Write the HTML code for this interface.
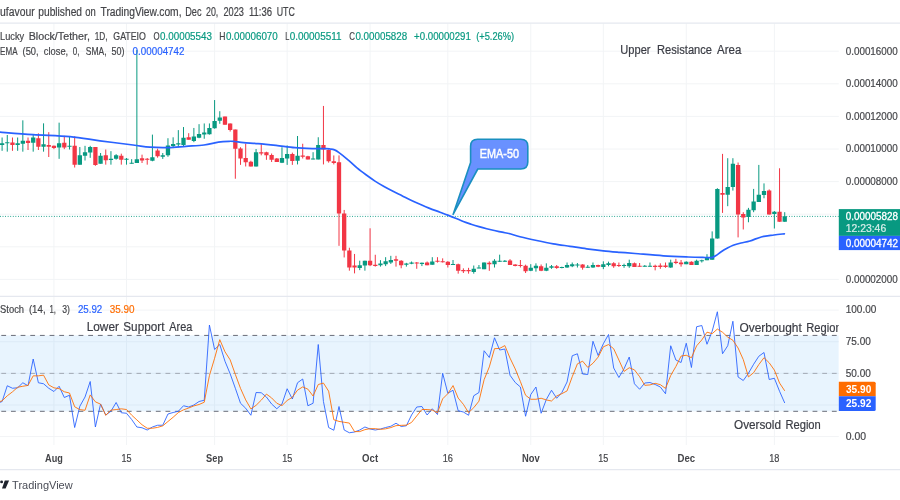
<!DOCTYPE html>
<html lang="en"><head><meta charset="utf-8"><title>Lucky Block/Tether chart</title>
<style>
html,body{margin:0;padding:0;background:#fff;}
body{width:900px;height:500px;overflow:hidden;}
svg{display:block;will-change:transform;}
text{font-family:"Liberation Sans", Arial, sans-serif;}
</style></head><body>
<svg width="900" height="500" viewBox="0 0 900 500" font-family='"Liberation Sans", Arial, sans-serif'>
<defs>
<clipPath id="cm"><rect x="0" y="23.5" width="838.8" height="272.5"/></clipPath>
<clipPath id="cs"><rect x="0" y="297" width="838.8" height="148"/></clipPath>
</defs>
<g stroke="#f2f4f6" stroke-width="1" fill="none">
<path d="M53.93 23.5V445"/>
<path d="M126.49 23.5V445"/>
<path d="M214.6 23.5V445"/>
<path d="M287.17 23.5V445"/>
<path d="M370.09 23.5V445"/>
<path d="M447.84 23.5V445"/>
<path d="M530.77 23.5V445"/>
<path d="M603.33 23.5V445"/>
<path d="M686.26 23.5V445"/>
<path d="M774.37 23.5V445"/>
<path d="M0 51.2H838.8"/>
<path d="M0 83.8H838.8"/>
<path d="M0 116.4H838.8"/>
<path d="M0 149H838.8"/>
<path d="M0 181.6H838.8"/>
<path d="M0 214.2H838.8"/>
<path d="M0 246.8H838.8"/>
<path d="M0 279.4H838.8"/>
<path d="M0 310.1H838.8"/>
<path d="M0 341.72H838.8"/>
<path d="M0 373.34H838.8"/>
<path d="M0 404.96H838.8"/>
<path d="M0 436.58H838.8"/>
</g>
<g stroke="#e5e8ef" stroke-width="1.3" fill="none">
<path d="M0 23.05H900"/>
<path d="M0 296.4H900"/>
<path d="M0 469.6H900"/>
</g>
<g clip-path="url(#cs)">
<rect x="0" y="335.42" width="838.8" height="75.89" fill="#2196f3" fill-opacity="0.1"/>
<g stroke="#6a6d78" stroke-width="1" fill="none" stroke-dasharray="4.8 4.858">
<path d="M-8.36 335.42H838.8"/>
<path d="M-8.36 411.3H838.8"/>
</g>
<path d="M-8.36 373.36H838.8" stroke="#787b86" stroke-opacity="0.6" stroke-width="1" fill="none" stroke-dasharray="4.8 4.858"/>
</g>
<path d="M0 216.4H838.8" stroke="#089981" stroke-width="1" stroke-dasharray="0.86 1.71" fill="none"/>
<g clip-path="url(#cm)">
<path d="M2.1 137.5V150.83M7.28 135V151.67M17.65 137.5V150.83M22.83 120.33V151.67M33.2 135V151.67M43.56 123.33V151.67M59.11 122.67V158.83M69.48 136.67V149.5M79.84 147V164.67M85.03 145.83V160.5M90.21 145.83V157.83M100.58 153V163.67M110.94 151.17V164.67M116.13 154.17V159.67M126.49 158V164.67M131.67 159.17V163.67M136.86 50V163M152.41 134.62V161.27M162.77 152.99V158.93M167.96 138.22V156.77M173.14 137.32V148.12M178.32 130.12V147.22M183.5 127.05V145.96M193.87 127.96V142.18M199.05 124.17V138.22M204.24 123.45V138.76M209.42 123.45V134.62M214.6 100.04V128.68M219.79 111.21V123.81M256.07 149.02V166.49M281.98 147.22V163.07M287.17 145.42V164.87M297.53 136V164.43M313.08 152.2V159.4M318.26 137.26V159.4M359.73 260.69V270.14M364.91 260.69V270.68M380.46 260.15V266.63M385.64 257.18V266.09M390.82 255.83V263.93M406.37 262.85V266.63M411.56 261.5V264.2M421.92 262.58V266.09M432.29 257.18V264.74M453.02 260V265M473.75 265.5V273.67M478.94 265V268.33M484.12 262.5V269.17M494.49 259.17V267.5M499.67 254.67V262M504.85 260V262M530.77 264.17V271.17M535.95 263.33V271.67M546.32 263.33V271.17M551.5 265V268.83M561.86 266.67V268.33M567.05 262.5V267.83M572.23 262.5V267.17M577.41 263V267.5M587.78 265V267.83M592.96 262.5V267.83M603.33 261.33V269.17M608.51 261.67V266.33M624.06 263.67V267.83M629.24 259.67V267.83M644.79 265V266.67M649.98 262.5V266.67M670.71 259.67V267.83M686.26 261.33V264.17M696.62 259.67V265M701.8 259.67V262.5M706.99 254.2V260.2M712.17 231.4V259.72M717.35 188.2V238.6M727.72 158.2V206.2M732.9 158.2V190.6M748.45 207.88V222.28M753.63 188.92V212.2M758.82 164.92V201.88M764 183.4V198.28M774.37 211V228.52M784.73 212.2V221.8" stroke="#089981" stroke-width="1" fill="none"/>
<path d="M12.47 137.5V150.83M28.02 137.5V150M38.38 133.33V150M48.75 132.17V157M53.93 145.5V149.17M64.3 135.83V149.17M74.66 136.33V167.5M95.39 147V165.83M105.76 149.5V164.67M121.31 153.67V164.67M142.04 154.67V163M147.22 158V164.67M157.59 148.66V157.67M188.69 133.18V139.66M224.97 116.61V124.71M230.15 123.45V131.56M235.33 129.58V178.74M240.52 147.22V164.87M245.7 143.62V166.49M250.88 160.73V166.49M261.25 143.98V155.33M266.43 151.73V159.83M271.62 153.53V161.99M276.8 158.03V161.99M292.35 152.63V164.87M302.71 143.74V158.5M307.9 155.8V159.4M323.45 105.94V164.43M328.63 149.5V162.63M333.81 155.44V164.43M339 155.4V245.84M344.18 209.94V257.45M349.36 247.73V270.68M354.54 253.94V273.38M370.09 228.29V266.09M375.28 254.75V266.63M396.01 255.83V266.63M401.19 260.15V268.25M416.74 262.04V268.79M427.11 261.5V265.28M437.47 257.18V262.58M442.66 258.33V262.5M447.84 261.17V267.5M458.2 263.67V273.67M463.39 268.33V273M468.57 267.83V273.67M489.3 261.33V270.83M510.03 259.17V265M515.22 264.17V266.33M520.4 260V267.5M525.58 264.67V273M541.13 264.5V271.17M556.68 265V268.83M582.6 264.17V269.67M598.14 264.67V267.17M613.69 262.17V267.83M618.88 262.5V267M634.43 262.5V267M639.61 263V266.67M655.16 264.67V270.33M660.34 263.33V268.83M665.52 262.5V267.83M675.89 258.83V264.17M681.07 260V266.67M691.44 261.33V265M722.54 153.88V212.92M738.09 162.52V237.4M743.27 212.2V229.48M769.18 189.4V214.6M779.55 168.28V221.8" stroke="#f23645" stroke-width="1" fill="none"/>
<path d="M-0.05 143.33h4.3V145h-4.3zM5.13 142.17h4.3V143.33h-4.3zM15.5 143.33h4.3V145h-4.3zM20.68 140.83h4.3V143.83h-4.3zM31.05 137.5h4.3V142.83h-4.3zM41.41 144.17h4.3V146.67h-4.3zM56.96 143.33h4.3V147.5h-4.3zM67.33 145.75h4.3V146.75h-4.3zM77.69 155.33h4.3V164.67h-4.3zM82.88 152.17h4.3V155.83h-4.3zM88.06 147h4.3V152.5h-4.3zM98.43 155.83h4.3V163.67h-4.3zM108.79 158.83h4.3V160h-4.3zM113.98 155.33h4.3V158.83h-4.3zM124.34 158.75h4.3V159.75h-4.3zM129.52 162.83h4.3V163.83h-4.3zM134.71 159.17h4.3V163h-4.3zM150.26 157.13h4.3V160.73h-4.3zM160.62 155.33h4.3V156.77h-4.3zM165.81 145.42h4.3V155.33h-4.3zM170.99 143.98h4.3V145.96h-4.3zM176.17 143.26h4.3V144.52h-4.3zM181.35 137.68h4.3V145.06h-4.3zM191.72 136.42h4.3V140.92h-4.3zM196.9 134.08h4.3V137.68h-4.3zM202.09 132.46h4.3V134.62h-4.3zM207.27 127.96h4.3V134.26h-4.3zM212.45 121.11h4.3V128.32h-4.3zM217.64 117.51h4.3V120.75h-4.3zM253.92 152.27h4.3V166.49h-4.3zM279.83 158.03h4.3V162.71h-4.3zM285.02 153.89h4.3V158.57h-4.3zM295.38 155.8h4.3V160.84h-4.3zM310.93 158.45h4.3V159.45h-4.3zM316.11 145h4.3V159.4h-4.3zM357.58 265.28h4.3V267.98h-4.3zM362.76 260.69h4.3V265.55h-4.3zM378.31 263.39h4.3V265.28h-4.3zM383.49 261.23h4.3V264.2h-4.3zM388.68 259.88h4.3V262.58h-4.3zM404.22 263.39h4.3V264.74h-4.3zM409.41 262.58h4.3V263.66h-4.3zM419.77 262.85h4.3V263.93h-4.3zM430.14 261.5h4.3V264.74h-4.3zM450.87 264.08h4.3V265.08h-4.3zM471.6 268.83h4.3V272h-4.3zM476.79 267.42h4.3V268.42h-4.3zM481.97 262.5h4.3V269.17h-4.3zM492.34 260.83h4.3V264.17h-4.3zM497.52 260.75h4.3V261.75h-4.3zM502.7 260.75h4.3V261.75h-4.3zM528.62 267.83h4.3V270.83h-4.3zM533.8 265.83h4.3V268.33h-4.3zM544.17 267.83h4.3V270.83h-4.3zM549.35 266.17h4.3V267.83h-4.3zM559.71 266.92h4.3V267.92h-4.3zM564.9 265h4.3V267.5h-4.3zM570.08 264.17h4.3V266.33h-4.3zM575.26 264.5h4.3V265.5h-4.3zM585.63 266.83h4.3V267.83h-4.3zM590.81 265h4.3V267.5h-4.3zM601.18 264.17h4.3V267h-4.3zM606.36 263.33h4.3V265h-4.3zM621.91 265h4.3V266h-4.3zM627.09 263h4.3V266.33h-4.3zM642.64 265.83h4.3V266.83h-4.3zM647.83 265.83h4.3V266.83h-4.3zM668.56 262.5h4.3V267.5h-4.3zM684.11 261.67h4.3V264.17h-4.3zM694.47 260.83h4.3V265h-4.3zM699.65 260.25h4.3V261.25h-4.3zM704.84 257.32h4.3V260.2h-4.3zM710.02 238.6h4.3V259.72h-4.3zM715.2 188.92h4.3V238.6h-4.3zM725.57 187h4.3V194.68h-4.3zM730.75 163.72h4.3V187h-4.3zM746.3 209.8h4.3V217h-4.3zM751.49 201.4h4.3V210.28h-4.3zM756.67 194.68h4.3V201.88h-4.3zM761.85 191.08h4.3V194.92h-4.3zM772.22 211.72h4.3V213.88h-4.3zM782.58 216.28h4.3V221.8h-4.3z" fill="#089981"/>
<path d="M10.32 142.5h4.3V145h-4.3zM25.87 140.83h4.3V143h-4.3zM36.23 138.33h4.3V146.67h-4.3zM46.6 145h4.3V146.67h-4.3zM51.78 145.83h4.3V148h-4.3zM62.15 142.83h4.3V147.5h-4.3zM72.51 145.83h4.3V164.67h-4.3zM93.24 147h4.3V165h-4.3zM103.61 155.33h4.3V160.33h-4.3zM119.16 155.83h4.3V159.67h-4.3zM139.89 158.33h4.3V160.5h-4.3zM145.07 158.75h4.3V159.75h-4.3zM155.44 150.47h4.3V156.23h-4.3zM186.54 137.32h4.3V139.66h-4.3zM222.82 116.61h4.3V124.71h-4.3zM228 123.45h4.3V130.12h-4.3zM233.18 129.58h4.3V148.66h-4.3zM238.37 148.48h4.3V158.39h-4.3zM243.55 158.03h4.3V162.17h-4.3zM248.73 161.63h4.3V166.49h-4.3zM259.1 152.27h4.3V153.53h-4.3zM264.28 152.27h4.3V155.33h-4.3zM269.47 154.97h4.3V159.83h-4.3zM274.65 158.39h4.3V161.99h-4.3zM290.2 153.89h4.3V161.09h-4.3zM300.56 155.44h4.3V156.7h-4.3zM305.75 156.34h4.3V159.4h-4.3zM321.3 145h4.3V149.5h-4.3zM326.48 150.04h4.3V161.2h-4.3zM331.66 161.2h4.3V162.99h-4.3zM336.85 162.15h4.3V213.44h-4.3zM342.03 213.44h4.3V250.43h-4.3zM347.21 250.43h4.3V267.44h-4.3zM352.39 265.55h4.3V267.44h-4.3zM367.94 260.69h4.3V265.28h-4.3zM373.13 264.74h4.3V266.09h-4.3zM393.86 259.34h4.3V260.69h-4.3zM399.04 260.69h4.3V265.28h-4.3zM414.59 262.49h4.3V263.49h-4.3zM424.96 262.58h4.3V265.28h-4.3zM435.32 260.69h4.3V261.77h-4.3zM440.51 261.17h4.3V262.17h-4.3zM445.69 261.67h4.3V265h-4.3zM456.05 264.17h4.3V270.83h-4.3zM461.24 270h4.3V271.17h-4.3zM466.42 270h4.3V271.17h-4.3zM487.15 262.83h4.3V264.17h-4.3zM507.88 260.5h4.3V265h-4.3zM513.07 264.5h4.3V266h-4.3zM518.25 265h4.3V266h-4.3zM523.43 265.83h4.3V271.17h-4.3zM538.98 266.17h4.3V270.83h-4.3zM554.53 266.17h4.3V268h-4.3zM580.45 264.5h4.3V267.83h-4.3zM596 265h4.3V266.67h-4.3zM611.54 263.33h4.3V266.33h-4.3zM616.73 265h4.3V266h-4.3zM632.28 263.33h4.3V267h-4.3zM637.46 265.75h4.3V266.75h-4.3zM653.01 265.83h4.3V267h-4.3zM658.19 265.5h4.3V267h-4.3zM663.37 265.5h4.3V267h-4.3zM673.74 261.67h4.3V263h-4.3zM678.92 262.5h4.3V264.17h-4.3zM689.29 261.67h4.3V265h-4.3zM720.39 193h4.3V194.68h-4.3zM735.94 164.92h4.3V214.6h-4.3zM741.12 214.12h4.3V217.48h-4.3zM767.03 190.6h4.3V214.6h-4.3zM777.4 211.72h4.3V221.8h-4.3z" fill="#f23645"/>
<path d="M-2 132C-1.67 132.03 -5.83 131.75 0 132.2C5.83 132.65 21.33 133.95 33 134.7C44.67 135.45 58.83 135.68 70 136.7C81.17 137.72 89.5 139.42 100 140.8C110.5 142.18 124.67 143.93 133 145C141.33 146.07 144.17 146.77 150 147.2C155.83 147.63 162 147.75 168 147.6C174 147.45 180 146.73 186 146.3C192 145.87 198.6 145.68 204 145C209.4 144.32 214.23 142.82 218.4 142.2C222.57 141.58 226.3 141.42 229 141.3C231.7 141.18 232.17 141.27 234.6 141.5C237.03 141.73 239.7 142.35 243.6 142.7C247.5 143.05 252.6 143.15 258 143.6C263.4 144.05 269.83 144.72 276 145.4C282.17 146.08 288.83 147.17 295 147.7C301.17 148.23 307.83 148.43 313 148.6C318.17 148.77 323.17 148.63 326 148.7C328.83 148.77 328.58 148.8 330 149C331.42 149.2 333 149.3 334.5 149.9C336 150.5 336.75 150.95 339 152.6C341.25 154.25 345 157.25 348 159.8C351 162.35 354 165.4 357 167.9C360 170.4 363 172.6 366 174.8C369 177 372 179.15 375 181.1C378 183.05 381 184.8 384 186.5C387 188.2 390 189.75 393 191.3C396 192.85 399 194.3 402 195.8C405 197.3 408 198.88 411 200.3C414 201.72 417 203 420 204.3C423 205.6 425.67 206.78 429 208.1C432.33 209.42 436.87 211.03 440 212.2C443.13 213.37 445.2 214.1 447.8 215.1C450.4 216.1 453.02 217.13 455.6 218.2C458.18 219.27 460.72 220.5 463.3 221.5C465.88 222.5 468.5 223.35 471.1 224.2C473.7 225.05 476.3 225.85 478.9 226.6C481.5 227.35 484.12 228.05 486.7 228.7C489.28 229.35 491.82 229.92 494.4 230.5C496.98 231.08 499.6 231.65 502.2 232.2C504.8 232.75 507.03 233.05 510 233.8C512.97 234.55 515.55 235.58 520 236.7C524.45 237.82 531.15 239.32 536.7 240.5C542.25 241.68 547.75 242.83 553.3 243.8C558.85 244.77 564.43 245.47 570 246.3C575.57 247.13 581.15 248.05 586.7 248.8C592.25 249.55 597.75 250.22 603.3 250.8C608.85 251.38 614.72 251.85 620 252.3C625.28 252.75 627.78 252.92 635 253.5C642.22 254.08 654.42 255.22 663.3 255.8C672.18 256.38 681.35 256.72 688.3 257C695.25 257.28 701.12 257.4 705 257.5C708.88 257.6 709.77 257.93 711.6 257.6C713.43 257.27 714.4 256.47 716 255.5C717.6 254.53 719.37 253 721.2 251.8C723.03 250.6 725 249.38 727 248.3C729 247.22 730.87 246.18 733.2 245.3C735.53 244.42 738.2 243.72 741 243C743.8 242.28 746.5 242.05 750 241C753.5 239.95 758 237.7 762 236.7C766 235.7 770.27 235.48 774 235C777.73 234.52 782.67 234 784.4 233.8" stroke="#2962ff" stroke-width="1.7" fill="none" stroke-linejoin="round" stroke-linecap="round"/>
</g>
<path d="M477.6 139.2H520.8Q527.8 139.2 527.8 146.2V162Q527.8 169 520.8 169H477.8L453.1 214.4L470.6 162.5V146.2Q470.6 139.2 477.6 139.2z" fill="#2962ff" fill-opacity="0.7" stroke="#1a8fc0" stroke-width="1.6" stroke-linejoin="round"/>
<text x="479.8" y="158.2" font-size="12" fill="#ffffff" textLength="39.2" lengthAdjust="spacingAndGlyphs" stroke="#ffffff" stroke-width="0.45">EMA-50</text>
<g clip-path="url(#cs)" fill="none" stroke-width="1" stroke-opacity="0.88" stroke-linejoin="round">
<path d="M-3.08 403.5L2.1 401.5L7.28 385.75L12.47 388.25L17.65 387.75L22.83 382.75L28.02 385.75L33.2 359L38.38 382.75L43.56 383.75L48.75 388.25L53.93 391.5L59.11 386.25L64.3 397.5L69.48 395.25L74.66 427.5L79.84 406.25L85.03 397L90.21 381.5L95.39 427L100.58 404L105.76 415L110.94 411.25L116.13 402.5L121.31 412.75L126.49 413.25L131.67 419.5L136.86 427L142.04 427.75L147.22 430L152.41 427L157.59 425.25L162.77 425.25L167.96 414L173.14 412.5L178.32 411.25L183.5 405.75L188.69 407L193.87 405L199.05 401.5L204.24 400.25L209.42 325L214.6 349.5L219.79 344.5L224.97 361.25L230.15 373.75L235.33 388.25L240.52 403.25L245.7 408.25L250.88 415.25L256.07 392.5L261.25 392.75L266.43 397L271.62 404L276.8 408.75L281.98 404L287.17 388.75L292.35 399L297.53 382.75L302.71 379L307.9 405.75L313.08 403.25L318.26 344.5L323.45 401.5L328.63 427.5L333.81 430.25L339 406.5L344.18 430L349.36 432.75L354.54 432L359.73 430L364.91 427L370.09 429L375.28 430L380.46 429L385.64 427.5L390.82 426.25L396.01 423.25L401.19 426.5L406.37 425.75L411.56 415L416.74 407L421.92 406.5L427.11 415L432.29 408.75L437.47 414.5L442.66 373.25L447.84 393.25L453.02 390.25L458.2 410.75L463.39 412L468.57 415.25L473.75 395.75L478.94 392.5L484.12 350.75L489.3 357.5L494.49 337.75L499.67 350L504.85 349L510.03 375.25L515.22 382.5L520.4 387L525.58 416.25L530.77 394.5L535.95 387L541.13 413.25L546.32 399.5L551.5 390.25L556.68 398.25L561.86 392.5L567.05 382L572.23 355.75L577.41 353.75L582.6 374L587.78 374.5L592.96 341.25L598.14 355.5L603.33 343.75L608.51 334.5L613.69 368L618.88 377.5L624.06 368.75L629.24 357L634.43 383.75L639.61 389.25L644.79 383L649.98 382.5L655.16 384.5L660.34 387L665.52 393.75L670.71 345.75L675.89 360L681.07 362.5L686.26 343.25L691.44 367.5L696.62 326.75L701.8 325.5L706.99 344.25L712.17 331.25L717.35 311.75L722.54 353.75L727.72 345.75L732.9 321.25L738.09 377L743.27 380.5L748.45 373.25L753.63 364.25L758.82 356.25L764 352.5L769.18 379.5L774.37 378.25L779.55 391.25L784.73 403" stroke="#2962ff"/>
<path d="M-3.08 402.5L2.1 400.8L7.28 395.8L12.47 391.83L17.65 387.25L22.83 386.25L28.02 385.42L33.2 375.83L38.38 375.83L43.56 375.17L48.75 384.92L53.93 387.83L59.11 388.67L64.3 391.75L69.48 393L74.66 406.75L79.84 409.67L85.03 410.25L90.21 394.92L95.39 401.83L100.58 404.17L105.76 415.33L110.94 410.08L116.13 409.58L121.31 408.83L126.49 409.5L131.67 415.17L136.86 419.92L142.04 424.75L147.22 428.25L152.41 428.25L157.59 427.42L162.77 425.83L167.96 421.5L173.14 417.25L178.32 412.58L183.5 409.83L188.69 408L193.87 405.92L199.05 404.5L204.24 402.25L209.42 375.58L214.6 358.25L219.79 339.67L224.97 351.75L230.15 359.83L235.33 374.42L240.52 388.42L245.7 399.92L250.88 408.92L256.07 405.33L261.25 400.17L266.43 394.08L271.62 397.92L276.8 403.25L281.98 405.58L287.17 400.5L292.35 397.25L297.53 390.17L302.71 386.92L307.9 389.17L313.08 396L318.26 384.5L323.45 383.08L328.63 391.17L333.81 419.75L339 421.42L344.18 422.25L349.36 423.08L354.54 431.58L359.73 431.58L364.91 429.67L370.09 428.67L375.28 428.67L380.46 429.33L385.64 428.83L390.82 427.58L396.01 425.67L401.19 425.33L406.37 425.17L411.56 422.42L416.74 415.92L421.92 409.5L427.11 409.5L432.29 410.08L437.47 412.75L442.66 398.83L447.84 393.67L453.02 385.58L458.2 398.08L463.39 404.33L468.57 412.67L473.75 407.67L478.94 401.17L484.12 379.67L489.3 366.92L494.49 348.67L499.67 348.42L504.85 345.58L510.03 358.08L515.22 368.92L520.4 381.58L525.58 395.25L530.77 399.25L535.95 399.25L541.13 398.25L546.32 399.92L551.5 401L556.68 396L561.86 393.67L567.05 390.92L572.23 376.75L577.41 363.83L582.6 361.17L587.78 367.42L592.96 363.25L598.14 357.08L603.33 346.83L608.51 344.58L613.69 348.75L618.88 360L624.06 371.42L629.24 367.75L634.43 369.83L639.61 376.67L644.79 385.33L649.98 384.92L655.16 383.33L660.34 384.67L665.52 388.42L670.71 375.5L675.89 366.5L681.07 356.08L686.26 355.25L691.44 357.75L696.62 345.83L701.8 339.92L706.99 332.17L712.17 333.67L717.35 329.08L722.54 332.25L727.72 337.08L732.9 340.25L738.09 348L743.27 359.58L748.45 376.92L753.63 372.67L758.82 364.58L764 357.67L769.18 362.75L774.37 370.08L779.55 383L784.73 390.83" stroke="#ff6d00"/>
</g>
<text x="845.7" y="54.5" font-size="10.8" fill="#444549" textLength="52.1" lengthAdjust="spacingAndGlyphs" stroke="#444549" stroke-width="0.2">0.00016000</text>
<text x="845.7" y="87.1" font-size="10.8" fill="#444549" textLength="52.1" lengthAdjust="spacingAndGlyphs" stroke="#444549" stroke-width="0.2">0.00014000</text>
<text x="845.7" y="119.7" font-size="10.8" fill="#444549" textLength="52.1" lengthAdjust="spacingAndGlyphs" stroke="#444549" stroke-width="0.2">0.00012000</text>
<text x="845.7" y="152.3" font-size="10.8" fill="#444549" textLength="52.1" lengthAdjust="spacingAndGlyphs" stroke="#444549" stroke-width="0.2">0.00010000</text>
<text x="845.7" y="184.9" font-size="10.8" fill="#444549" textLength="52.1" lengthAdjust="spacingAndGlyphs" stroke="#444549" stroke-width="0.2">0.00008000</text>
<text x="845.7" y="282.7" font-size="10.8" fill="#444549" textLength="52.1" lengthAdjust="spacingAndGlyphs" stroke="#444549" stroke-width="0.2">0.00002000</text>
<text x="845.7" y="313.4" font-size="10.8" fill="#444549" textLength="30.6" lengthAdjust="spacingAndGlyphs" stroke="#444549" stroke-width="0.2">100.00</text>
<text x="845.7" y="345.02" font-size="10.8" fill="#444549" textLength="25.1" lengthAdjust="spacingAndGlyphs" stroke="#444549" stroke-width="0.2">75.00</text>
<text x="845.7" y="376.64" font-size="10.8" fill="#444549" textLength="25.1" lengthAdjust="spacingAndGlyphs" stroke="#444549" stroke-width="0.2">50.00</text>
<text x="845.7" y="439.88" font-size="10.8" fill="#444549" textLength="20.3" lengthAdjust="spacingAndGlyphs" stroke="#444549" stroke-width="0.2">0.00</text>
<rect x="838.8" y="209.1" width="62" height="26.8" fill="#089981"/>
<text x="845.7" y="220.1" font-size="10.5" fill="#ffffff" textLength="52.3" lengthAdjust="spacingAndGlyphs" stroke="#ffffff" stroke-width="0.3">0.00005828</text>
<text x="845.7" y="232.2" font-size="10.5" fill="#d6eeea" textLength="40.5" lengthAdjust="spacingAndGlyphs" stroke="#d6eeea" stroke-width="0.2">12:23:46</text>
<rect x="838.8" y="235.9" width="62" height="14.2" fill="#2962ff"/>
<text x="845.7" y="246.6" font-size="10.5" fill="#ffffff" textLength="52.3" lengthAdjust="spacingAndGlyphs" stroke="#ffffff" stroke-width="0.3">0.00004742</text>
<path d="M838.8 381.7H874.2Q875.7 381.7 875.7 383.2V396.35H838.8z" fill="#ff6d00"/>
<text x="846" y="392.6" font-size="10.5" fill="#ffffff" textLength="25.3" lengthAdjust="spacingAndGlyphs" font-weight="bold">35.90</text>
<path d="M838.8 396.35H875.7V409.4Q875.7 410.9 874.2 410.9H838.8z" fill="#2962ff"/>
<text x="846" y="407.4" font-size="10.5" fill="#ffffff" textLength="25.3" lengthAdjust="spacingAndGlyphs" font-weight="bold">25.92</text>
<text x="0.1" y="16.3" font-size="12" fill="#444549" textLength="34.6" lengthAdjust="spacingAndGlyphs" stroke="#444549" stroke-width="0.2">ufavour</text>
<text x="38.3" y="16.3" font-size="12" fill="#444549" textLength="43.7" lengthAdjust="spacingAndGlyphs" stroke="#444549" stroke-width="0.2">published</text>
<text x="85.3" y="16.3" font-size="12" fill="#444549" textLength="10.5" lengthAdjust="spacingAndGlyphs" stroke="#444549" stroke-width="0.2">on</text>
<text x="100.5" y="16.3" font-size="12" fill="#444549" textLength="81" lengthAdjust="spacingAndGlyphs" stroke="#444549" stroke-width="0.2">TradingView.com,</text>
<text x="185.2" y="16.3" font-size="12" fill="#444549" textLength="16.3" lengthAdjust="spacingAndGlyphs" stroke="#444549" stroke-width="0.2">Dec</text>
<text x="206" y="16.3" font-size="12" fill="#444549" textLength="12.3" lengthAdjust="spacingAndGlyphs" stroke="#444549" stroke-width="0.2">20,</text>
<text x="223.5" y="16.3" font-size="12" fill="#444549" textLength="20.5" lengthAdjust="spacingAndGlyphs" stroke="#444549" stroke-width="0.2">2023</text>
<text x="248.9" y="16.3" font-size="12" fill="#444549" textLength="23.1" lengthAdjust="spacingAndGlyphs" stroke="#444549" stroke-width="0.2">11:36</text>
<text x="276.7" y="16.3" font-size="12" fill="#444549" textLength="18.2" lengthAdjust="spacingAndGlyphs" stroke="#444549" stroke-width="0.2">UTC</text>
<text x="0.1" y="40.2" font-size="11" fill="#444549" textLength="24.1" lengthAdjust="spacingAndGlyphs" stroke="#444549" stroke-width="0.2">Lucky</text>
<text x="28.7" y="40.2" font-size="11" fill="#444549" textLength="61.3" lengthAdjust="spacingAndGlyphs" stroke="#444549" stroke-width="0.2">Block/Tether,</text>
<text x="94.7" y="40.2" font-size="11" fill="#444549" textLength="12.9" lengthAdjust="spacingAndGlyphs" stroke="#444549" stroke-width="0.2">1D,</text>
<text x="113.3" y="40.2" font-size="11" fill="#444549" textLength="32.6" lengthAdjust="spacingAndGlyphs" stroke="#444549" stroke-width="0.2">GATEIO</text>
<text x="153.6" y="40.2" font-size="11" fill="#444549" textLength="6.1" lengthAdjust="spacingAndGlyphs" stroke="#444549" stroke-width="0.2">O</text>
<text x="160.1" y="40.2" font-size="11" fill="#089981" textLength="51.8" lengthAdjust="spacingAndGlyphs" stroke="#089981" stroke-width="0.2">0.00005543</text>
<text x="219.2" y="40.2" font-size="11" fill="#444549" textLength="6.2" lengthAdjust="spacingAndGlyphs" stroke="#444549" stroke-width="0.2">H</text>
<text x="225.9" y="40.2" font-size="11" fill="#089981" textLength="51.9" lengthAdjust="spacingAndGlyphs" stroke="#089981" stroke-width="0.2">0.00006070</text>
<text x="285.2" y="40.2" font-size="11" fill="#444549" textLength="4.1" lengthAdjust="spacingAndGlyphs" stroke="#444549" stroke-width="0.2">L</text>
<text x="289.7" y="40.2" font-size="11" fill="#089981" textLength="51.9" lengthAdjust="spacingAndGlyphs" stroke="#089981" stroke-width="0.2">0.00005511</text>
<text x="349.3" y="40.2" font-size="11" fill="#444549" textLength="5.7" lengthAdjust="spacingAndGlyphs" stroke="#444549" stroke-width="0.2">C</text>
<text x="355.4" y="40.2" font-size="11" fill="#089981" textLength="51.8" lengthAdjust="spacingAndGlyphs" stroke="#089981" stroke-width="0.2">0.00005828</text>
<text x="414.1" y="40.2" font-size="11" fill="#089981" textLength="56.8" lengthAdjust="spacingAndGlyphs" stroke="#089981" stroke-width="0.2">+0.00000291</text>
<text x="476.2" y="40.2" font-size="11" fill="#089981" textLength="37.9" lengthAdjust="spacingAndGlyphs" stroke="#089981" stroke-width="0.2">(+5.26%)</text>
<text x="0.1" y="54.7" font-size="11" fill="#444549" textLength="17.4" lengthAdjust="spacingAndGlyphs" stroke="#444549" stroke-width="0.2">EMA</text>
<text x="22.6" y="54.7" font-size="11" fill="#444549" textLength="16" lengthAdjust="spacingAndGlyphs" stroke="#444549" stroke-width="0.2">(50,</text>
<text x="43.8" y="54.7" font-size="11" fill="#444549" textLength="24.4" lengthAdjust="spacingAndGlyphs" stroke="#444549" stroke-width="0.2">close,</text>
<text x="72.8" y="54.7" font-size="11" fill="#444549" textLength="6.7" lengthAdjust="spacingAndGlyphs" stroke="#444549" stroke-width="0.2">0,</text>
<text x="85.8" y="54.7" font-size="11" fill="#444549" textLength="20.8" lengthAdjust="spacingAndGlyphs" stroke="#444549" stroke-width="0.2">SMA,</text>
<text x="111.4" y="54.7" font-size="11" fill="#444549" textLength="13" lengthAdjust="spacingAndGlyphs" stroke="#444549" stroke-width="0.2">50)</text>
<text x="132.6" y="54.7" font-size="11" fill="#2962ff" textLength="51.9" lengthAdjust="spacingAndGlyphs" stroke="#2962ff" stroke-width="0.2">0.00004742</text>
<text x="0.1" y="313.2" font-size="11" fill="#444549" textLength="24" lengthAdjust="spacingAndGlyphs" stroke="#444549" stroke-width="0.2">Stoch</text>
<text x="28.9" y="313.2" font-size="11" fill="#444549" textLength="16.7" lengthAdjust="spacingAndGlyphs" stroke="#444549" stroke-width="0.2">(14,</text>
<text x="49.5" y="313.2" font-size="11" fill="#444549" textLength="6.5" lengthAdjust="spacingAndGlyphs" stroke="#444549" stroke-width="0.2">1,</text>
<text x="62.3" y="313.2" font-size="11" fill="#444549" textLength="7.7" lengthAdjust="spacingAndGlyphs" stroke="#444549" stroke-width="0.2">3)</text>
<text x="77.9" y="313.2" font-size="11" fill="#2962ff" textLength="24.4" lengthAdjust="spacingAndGlyphs" stroke="#2962ff" stroke-width="0.2">25.92</text>
<text x="109.7" y="313.2" font-size="11" fill="#ff6d00" textLength="24.8" lengthAdjust="spacingAndGlyphs" stroke="#ff6d00" stroke-width="0.2">35.90</text>
<text x="620.3" y="54.3" font-size="12.5" fill="#3a3c44" textLength="30.2" lengthAdjust="spacingAndGlyphs" stroke="#3a3c44" stroke-width="0.2">Upper</text>
<text x="657" y="54.3" font-size="12.5" fill="#3a3c44" textLength="55" lengthAdjust="spacingAndGlyphs" stroke="#3a3c44" stroke-width="0.2">Resistance</text>
<text x="717" y="54.3" font-size="12.5" fill="#3a3c44" textLength="24.3" lengthAdjust="spacingAndGlyphs" stroke="#3a3c44" stroke-width="0.2">Area</text>
<text x="86.7" y="331" font-size="12.5" fill="#3a3c44" textLength="32.2" lengthAdjust="spacingAndGlyphs" stroke="#3a3c44" stroke-width="0.2">Lower</text>
<text x="123.3" y="331" font-size="12.5" fill="#3a3c44" textLength="41.1" lengthAdjust="spacingAndGlyphs" stroke="#3a3c44" stroke-width="0.2">Support</text>
<text x="169.3" y="331" font-size="12.5" fill="#3a3c44" textLength="23" lengthAdjust="spacingAndGlyphs" stroke="#3a3c44" stroke-width="0.2">Area</text>
<g clip-path="url(#cs)">
<text x="739.5" y="331.7" font-size="12.5" fill="#3a3c44" textLength="62.2" lengthAdjust="spacingAndGlyphs" stroke="#3a3c44" stroke-width="0.2">Overbought</text>
<text x="806.3" y="331.7" font-size="12.5" fill="#3a3c44" textLength="35.3" lengthAdjust="spacingAndGlyphs" stroke="#3a3c44" stroke-width="0.2">Region</text>
</g>
<text x="734" y="428.7" font-size="12.5" fill="#3a3c44" textLength="47" lengthAdjust="spacingAndGlyphs" stroke="#3a3c44" stroke-width="0.2">Oversold</text>
<text x="785.4" y="428.7" font-size="12.5" fill="#3a3c44" textLength="35.4" lengthAdjust="spacingAndGlyphs" stroke="#3a3c44" stroke-width="0.2">Region</text>
<text x="45.08" y="461.5" font-size="10.3" fill="#444549" textLength="17.7" lengthAdjust="spacingAndGlyphs" font-weight="bold">Aug</text>
<text x="121.49" y="461.5" font-size="10.3" fill="#444549" textLength="10" lengthAdjust="spacingAndGlyphs" stroke="#444549" stroke-width="0.2">15</text>
<text x="206.1" y="461.5" font-size="10.3" fill="#444549" textLength="17" lengthAdjust="spacingAndGlyphs" font-weight="bold">Sep</text>
<text x="282.17" y="461.5" font-size="10.3" fill="#444549" textLength="10" lengthAdjust="spacingAndGlyphs" stroke="#444549" stroke-width="0.2">15</text>
<text x="362.09" y="461.5" font-size="10.3" fill="#444549" textLength="16" lengthAdjust="spacingAndGlyphs" font-weight="bold">Oct</text>
<text x="442.74" y="461.5" font-size="10.3" fill="#444549" textLength="10.2" lengthAdjust="spacingAndGlyphs" stroke="#444549" stroke-width="0.2">16</text>
<text x="521.92" y="461.5" font-size="10.3" fill="#444549" textLength="17.7" lengthAdjust="spacingAndGlyphs" font-weight="bold">Nov</text>
<text x="598.33" y="461.5" font-size="10.3" fill="#444549" textLength="10" lengthAdjust="spacingAndGlyphs" stroke="#444549" stroke-width="0.2">15</text>
<text x="677.46" y="461.5" font-size="10.3" fill="#444549" textLength="17.6" lengthAdjust="spacingAndGlyphs" font-weight="bold">Dec</text>
<text x="769.27" y="461.5" font-size="10.3" fill="#444549" textLength="10.2" lengthAdjust="spacingAndGlyphs" stroke="#444549" stroke-width="0.2">18</text>
<g fill="#1e222d">
<circle cx="1.6" cy="481.9" r="1.45"/>
<path d="M4.8 480.4H9.1L5.6 488.6H2z"/>
</g>
<text x="12.1" y="488.7" font-size="10.9" fill="#4a4d57" textLength="60.6" lengthAdjust="spacingAndGlyphs">TradingView</text>
</svg>
</body></html>
